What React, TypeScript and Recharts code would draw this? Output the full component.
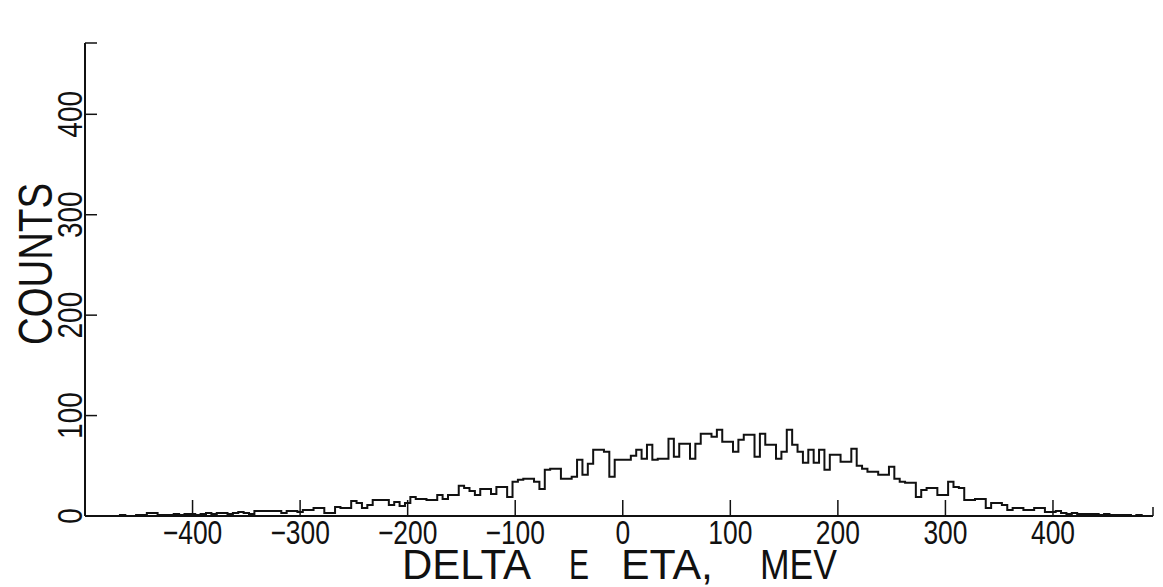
import { LineChart, Line, XAxis, YAxis, Label } from "recharts";

// histogram of delta E (eta), 5 MeV bins, first bin starts at -497.5
const BIN_START = -497.5;
const BIN_WIDTH = 5;
const counts = [
  0, 0, 0, 0, 0, 0, 1, 0, 0,
  1, 1, 3, 3, 1, 1, 1, 2, 1, 2,
  2, 1, 2, 3, 2, 3, 3, 2, 3, 4,
  3, 2, 5, 5, 5, 5, 5, 3, 5, 5,
  4, 6, 6, 8, 8, 3, 3, 9, 8, 8,
  15, 13, 8, 11, 16, 16, 16, 11, 14, 10,
  13, 19, 17, 17, 16, 16, 21, 17, 21, 21,
  30, 28, 25, 21, 27, 27, 22, 29, 29, 19,
  34, 36, 37, 37, 34, 27, 46, 47, 47, 37,
  37, 39, 56, 41, 52, 66, 66, 64, 39, 56,
  56, 56, 60, 66, 57, 71, 56, 57, 57, 77,
  59, 72, 72, 57, 72, 82, 82, 79, 86, 74,
  74, 64, 76, 81, 81, 59, 82, 71, 71, 57,
  64, 86, 71, 64, 53, 66, 53, 66, 46, 61,
  61, 54, 54, 67, 50, 47, 44, 44, 41, 41,
  49, 37, 34, 33, 33, 19, 26, 28, 28, 21,
  21, 34, 29, 28, 16, 16, 17, 17, 8, 13,
  13, 11, 6, 8, 8, 6, 6, 8, 8, 4,
  4, 5, 3, 2, 3, 2, 2, 2, 2, 1,
  2, 1, 1, 1, 1, 0, 1, 0, 0,
];

const xTicks = [-400, -300, -200, -100, 0, 100, 200, 300, 400];
const yTicks = [0, 100, 200, 300, 400];
const X_MIN = -500;
const X_MAX = 493;
const Y_MAX = 471;

const rows = counts.map((c, i) => ({ x: BIN_START + i * BIN_WIDTH, y: c }));
rows.push({ x: BIN_START + counts.length * BIN_WIDTH, y: counts[counts.length - 1] });

const FONT = "'Liberation Sans', Arial, sans-serif";
const INK = "#111";

// old plotter numbers use a long minus
const fmt = (v: number) => (v < 0 ? "\u2212" + Math.abs(v) : String(v));

function XTick(props: any) {
  const { x, y, payload } = props;
  const labelled = xTicks.includes(payload.value);
  return (
    <g>
      <line x1={x} y1={y} x2={x} y2={y - (labelled ? 16 : 9)} stroke={INK} strokeWidth={1.5} />
      {labelled && (
        <text transform={`translate(${x}, ${y + 28}) scale(0.8, 1)`} textAnchor="middle"
          fontFamily={FONT} fontSize={33} fill={INK}>
          {fmt(payload.value)}
        </text>
      )}
    </g>
  );
}

function YTick(props: any) {
  const { x, y, payload } = props;
  const labelled = yTicks.includes(payload.value);
  return (
    <g>
      {payload.value !== 0 && (
        <line x1={x} y1={y} x2={x + 12} y2={y} stroke={INK} strokeWidth={1.5} />
      )}
      {labelled && (
        <text transform={`translate(${x - 3}, ${y}) rotate(-90) scale(0.8, 1)`} textAnchor="middle"
          fontFamily={FONT} fontSize={35} fill={INK}>
          {payload.value}
        </text>
      )}
    </g>
  );
}

const titleWords = [
  { text: "DELTA", x: 402, w: 129 },
  { text: "E", x: 569, w: 20 },
  { text: "ETA,", x: 621, w: 92 },
  { text: "MEV", x: 760, w: 77 },
];

export default function App() {
  return (
    <div style={{ position: "absolute", left: 0, top: 0, width: 1163, height: 587, background: "#fff" }}>
      <LineChart width={1163} height={587} data={rows} margin={{ top: 43, right: 10, bottom: 41, left: 45 }}>
        <XAxis
          type="number"
          dataKey="x"
          domain={[X_MIN, X_MAX]}
          ticks={[...xTicks, X_MAX]}
          interval={0}
          allowDataOverflow
          height={30}
          tickSize={0}
          tickMargin={0}
          tickLine={false}
          tick={<XTick />}
          axisLine={{ stroke: INK, strokeWidth: 2 }}
        >
          <Label
            content={() => (
              <g>
                {titleWords.map((w) => (
                  <text key={w.x} x={w.x} y={579} fontFamily={FONT} fontSize={42} fill={INK}
                    textLength={w.w} lengthAdjust="spacingAndGlyphs">
                    {w.text}
                  </text>
                ))}
              </g>
            )}
          />
        </XAxis>
        <YAxis
          type="number"
          domain={[0, Y_MAX]}
          ticks={[...yTicks, Y_MAX]}
          interval={0}
          allowDataOverflow
          width={40}
          tickSize={0}
          tickMargin={0}
          tickLine={false}
          tick={<YTick />}
          axisLine={{ stroke: INK, strokeWidth: 2 }}
        >
          <Label
            content={() => (
              <text transform="translate(52, 264) rotate(-90)" textAnchor="middle"
                fontFamily={FONT} fontSize={48} fill={INK} textLength={162} lengthAdjust="spacingAndGlyphs">
                COUNTS
              </text>
            )}
          />
        </YAxis>
        <Line
          type="stepAfter"
          dataKey="y"
          stroke={INK}
          strokeWidth={2}
          dot={false}
          isAnimationActive={false}
        />
      </LineChart>
    </div>
  );
}
